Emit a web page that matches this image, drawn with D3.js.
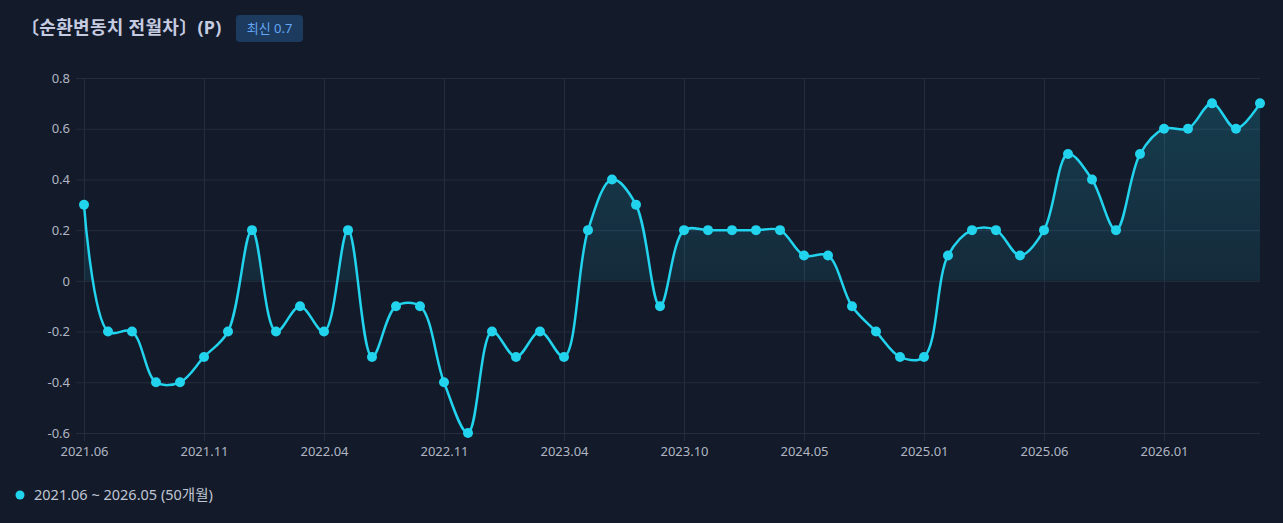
<!DOCTYPE html>
<html>
<head>
  <meta charset="utf-8">
  <title>순환변동치 전월차</title>
  <script src="https://d3js.org/d3.v7.min.js"></script>
  <style>
    html, body {
      margin: 0;
      padding: 0;
      background: #131a29;
    }
    svg text {
      font-family: "Noto Sans", "Noto Sans CJK KR", sans-serif;
    }
    .axis text {
      fill: #b0b6c3;
      font-size: 13px;
    }
    .axis path {
      display: none;
    }
    .axis line {
      stroke: #252d3e;
    }
  </style>
</head>
<body>
  <div id="chart"></div>
  <script>
    // tick labels, one every 5 points
    const tickLabels = ["2021.06", "2021.11", "2022.04", "2022.11", "2023.04",
      "2023.10", "2024.05", "2025.01", "2025.06", "2026.01"];
    const yTicks = [-0.6, -0.4, -0.2, 0, 0.2, 0.4, 0.6, 0.8];
    // monthly change of the cyclical component, 50 points
    const values = [
      0.3, -0.2, -0.2, -0.4, -0.4, -0.3, -0.2, 0.2, -0.2, -0.1,
      -0.2, 0.2, -0.3, -0.1, -0.1, -0.4, -0.6, -0.2, -0.3, -0.2,
      -0.3, 0.2, 0.4, 0.3, -0.1, 0.2, 0.2, 0.2, 0.2, 0.2,
      0.1, 0.1, -0.1, -0.2, -0.3, -0.3, 0.1, 0.2, 0.2, 0.1,
      0.2, 0.5, 0.4, 0.2, 0.5, 0.6, 0.6, 0.7, 0.6, 0.7
    ];
    const title = "〔순환변동치 전월차〕(P)";
    const badge = "최신 0.7";
    const legendText = "2021.06 ~ 2026.05 (50개월)";

    const W = 1283, H = 523;
    const margin = { top: 78, right: 23, bottom: 90, left: 84 };
    const width = W - margin.left - margin.right,
      height = H - margin.top - margin.bottom;

    const svg = d3.select("#chart")
      .append("svg")
      .attr("width", W)
      .attr("height", H);

    svg.append("rect")
      .attr("width", W)
      .attr("height", H)
      .attr("fill", "#131a29");

    // header
    svg.append("text")
      .attr("x", 21)
      .attr("y", 34)
      .attr("fill", "#c5cbe0")
      .style("font-size", "18px")
      .style("font-weight", "bold")
      .style("letter-spacing", "0.3px")
      .text(title);

    svg.append("rect")
      .attr("x", 236)
      .attr("y", 15)
      .attr("width", 67)
      .attr("height", 27)
      .attr("rx", 4)
      .attr("fill", "#1d3a5f");
    svg.append("text")
      .attr("x", 269.5)
      .attr("y", 33)
      .attr("text-anchor", "middle")
      .attr("fill", "#63a8f5")
      .style("font-size", "13px")
      .text(badge);

    const g = svg.append("g")
      .attr("transform", `translate(${margin.left},${margin.top})`);

    const idx = d3.range(values.length);
    const x = d3.scalePoint().domain(idx).range([0, width]);
    const y = d3.scaleLinear().domain([-0.6, 0.8]).range([height, 0]);

    // grid + axes (plain hyphen for negatives, like the original)
    g.append("g")
      .attr("class", "axis")
      .call(d3.axisLeft(y).tickValues(yTicks).tickSize(-width).tickPadding(14)
        .tickFormat(d => d === 0 ? "0" : d.toFixed(1)))
      .call(s => s.selectAll("line").attr("x1", -8).attr("x2", width));

    g.append("g")
      .attr("class", "axis")
      .attr("transform", `translate(0,${height})`)
      .call(d3.axisBottom(x)
        .tickValues(idx.filter(i => i % 5 === 0))
        .tickFormat(i => tickLabels[i / 5])
        .tickSize(8).tickPadding(6))
      .call(s => s.selectAll("line").attr("y1", -height).attr("y2", 8));

    // gradient fill above zero
    const defs = svg.append("defs");
    const grad = defs.append("linearGradient")
      .attr("id", "fillGrad")
      .attr("gradientUnits", "userSpaceOnUse")
      .attr("x1", 0).attr("x2", 0)
      .attr("y1", y(0.8)).attr("y2", y(0));
    grad.append("stop").attr("offset", "0%").attr("stop-color", "#22d3ee").attr("stop-opacity", 0.2);
    grad.append("stop").attr("offset", "100%").attr("stop-color", "#22d3ee").attr("stop-opacity", 0.09);

    defs.append("clipPath").attr("id", "posClip")
      .append("rect")
      .attr("x", 0).attr("y", -10)
      .attr("width", width).attr("height", y(0) + 10);

    const curve = d3.curveCatmullRom.alpha(0.5);

    const area = d3.area()
      .x(i => x(i))
      .y0(y(0))
      .y1(i => y(values[i]))
      .curve(curve);

    g.append("path")
      .datum(idx)
      .attr("clip-path", "url(#posClip)")
      .attr("fill", "url(#fillGrad)")
      .attr("d", area);

    const line = d3.line()
      .x(i => x(i))
      .y(i => y(values[i]))
      .curve(curve);

    g.append("path")
      .datum(idx)
      .attr("fill", "none")
      .attr("stroke", "#22d3ee")
      .attr("stroke-width", 2.5)
      .attr("d", line);

    g.selectAll("circle.pt")
      .data(idx)
      .enter()
      .append("circle")
      .attr("class", "pt")
      .attr("cx", i => x(i))
      .attr("cy", i => y(values[i]))
      .attr("r", 5)
      .attr("fill", "#22d3ee");

    // legend
    svg.append("circle")
      .attr("cx", 20)
      .attr("cy", 495)
      .attr("r", 4.5)
      .attr("fill", "#22d3ee");
    svg.append("text")
      .attr("x", 34)
      .attr("y", 500)
      .attr("fill", "#c0c6d4")
      .style("font-size", "14.5px")
      .text(legendText);
  </script>
</body>
</html>
